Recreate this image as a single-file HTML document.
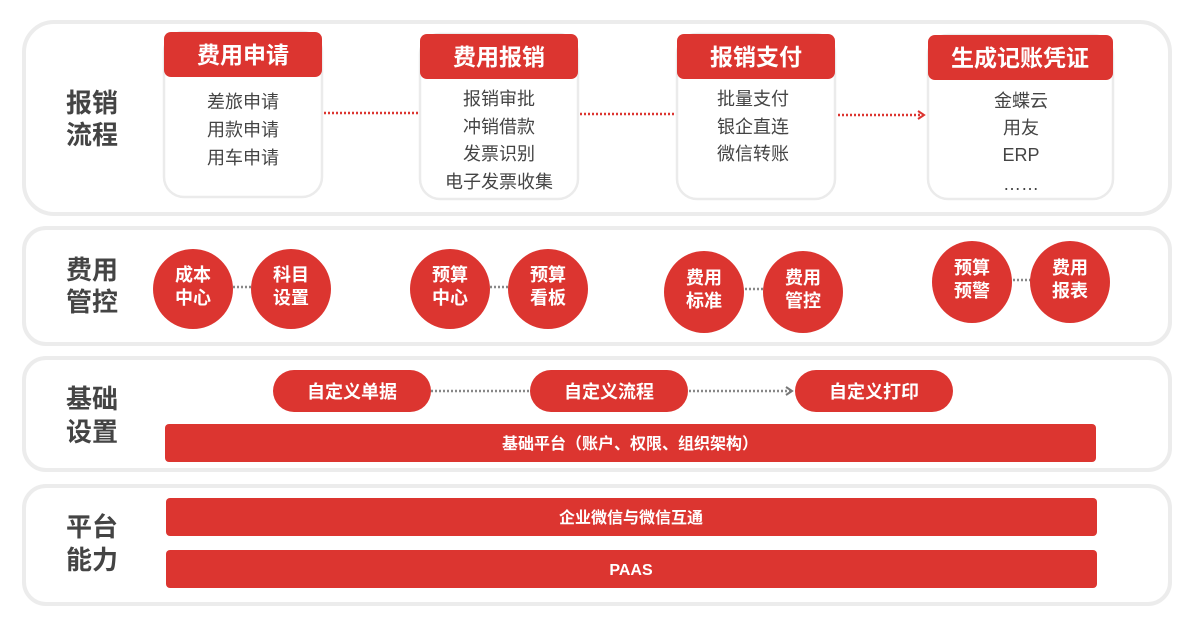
<!DOCTYPE html>
<html><head><meta charset="utf-8"><style>
html,body{margin:0;padding:0;background:#fff;width:1200px;height:626px;overflow:hidden}
svg{display:block}
text{font-family:"Liberation Sans","Noto Sans CJK SC",sans-serif}
.lbl{font-size:26px;font-weight:bold;fill:#444}
.hd{font-size:23px;font-weight:bold;fill:#fff}
.it{font-size:18px;fill:#444}
.ct{font-size:18px;font-weight:bold;fill:#fff}
</style></head><body>
<svg width="1200" height="626" viewBox="0 0 1200 626">
<defs>
<marker id="ar" markerWidth="10" markerHeight="10" refX="8" refY="5" orient="auto" markerUnits="userSpaceOnUse"><path d="M2,1 L8,5 L2,9" fill="none" stroke="#dc3530" stroke-width="2"/></marker>
<marker id="ag" markerWidth="10" markerHeight="10" refX="8" refY="5" orient="auto" markerUnits="userSpaceOnUse"><path d="M2,1 L8,5 L2,9" fill="none" stroke="#777" stroke-width="2"/></marker>
</defs>
<g fill="#fff" stroke="#ececec" stroke-width="4">
<rect x="24" y="22" width="1146" height="192" rx="30"/>
<rect x="24" y="228" width="1146" height="116" rx="22"/>
<rect x="24" y="358" width="1146" height="112" rx="22"/>
<rect x="24" y="486" width="1146" height="118" rx="22"/>
</g>
<g class="lbl" text-anchor="middle">
<text x="92" y="112" class="lbl">报销</text><text x="92" y="144" class="lbl">流程</text>
<text x="92" y="279" class="lbl">费用</text><text x="92" y="311" class="lbl">管控</text>
<text x="92" y="408" class="lbl">基础</text><text x="92" y="441" class="lbl">设置</text>
<text x="92" y="536" class="lbl">平台</text><text x="92" y="569" class="lbl">能力</text>
</g>
<g fill="#fff" stroke="#ebebeb" stroke-width="2.5">
<rect x="164" y="32" width="158" height="165" rx="20"/>
<rect x="420" y="34" width="158" height="165" rx="20"/>
<rect x="677" y="34" width="158" height="165" rx="20"/>
<rect x="928" y="35" width="185" height="164" rx="20"/>
</g>
<g fill="#dc3530">
<rect x="164" y="32" width="158" height="45" rx="7"/>
<rect x="420" y="34" width="158" height="45" rx="7"/>
<rect x="677" y="34" width="158" height="45" rx="7"/>
<rect x="928" y="35" width="185" height="45" rx="7"/>
</g>
<g text-anchor="middle">
<text x="243" y="63" class="hd">费用申请</text>
<text x="499" y="65" class="hd">费用报销</text>
<text x="756" y="65" class="hd">报销支付</text>
<text x="1020" y="66" class="hd">生成记账凭证</text>
<text x="243" y="108" class="it">差旅申请</text>
<text x="243" y="136" class="it">用款申请</text>
<text x="243" y="164" class="it">用车申请</text>
<text x="499" y="105" class="it">报销审批</text>
<text x="499" y="133" class="it">冲销借款</text>
<text x="499" y="160" class="it">发票识别</text>
<text x="499" y="188" class="it">电子发票收集</text>
<text x="753" y="105" class="it">批量支付</text>
<text x="753" y="133" class="it">银企直连</text>
<text x="753" y="160" class="it">微信转账</text>
<text x="1021" y="107" class="it">金蝶云</text>
<text x="1021" y="134" class="it">用友</text>
<text x="1021" y="161" class="it">ERP</text>
<text x="1021" y="190" class="it">……</text>
</g>
<g stroke="#dc3530" stroke-width="2.5" stroke-dasharray="2 2" fill="none">
<line x1="324" y1="113" x2="418" y2="113"/>
<line x1="580" y1="114" x2="675" y2="114"/>
<line x1="838" y1="115" x2="924" y2="115" marker-end="url(#ar)"/>
</g>
<g stroke="#888" stroke-width="2.5" stroke-dasharray="2 2">
<line x1="233" y1="287" x2="251" y2="287"/>
<line x1="490" y1="287" x2="508" y2="287"/>
<line x1="745" y1="289" x2="763" y2="289"/>
<line x1="1013" y1="280" x2="1031" y2="280"/>
</g>
<g fill="#dc3530">
<ellipse cx="193" cy="289" rx="40" ry="40"/>
<ellipse cx="291" cy="289" rx="40" ry="40"/>
<ellipse cx="450" cy="289" rx="40" ry="40"/>
<ellipse cx="548" cy="289" rx="40" ry="40"/>
<ellipse cx="704" cy="292" rx="40" ry="41"/>
<ellipse cx="803" cy="292" rx="40" ry="41"/>
<ellipse cx="972" cy="282" rx="40" ry="41"/>
<ellipse cx="1070" cy="282" rx="40" ry="41"/>
</g>
<g text-anchor="middle" class="ct">
<text x="193" y="281" class="ct">成本</text><text x="193" y="304" class="ct">中心</text>
<text x="291" y="281" class="ct">科目</text><text x="291" y="304" class="ct">设置</text>
<text x="450" y="281" class="ct">预算</text><text x="450" y="304" class="ct">中心</text>
<text x="548" y="281" class="ct">预算</text><text x="548" y="304" class="ct">看板</text>
<text x="704" y="284" class="ct">费用</text><text x="704" y="307" class="ct">标准</text>
<text x="803" y="284" class="ct">费用</text><text x="803" y="307" class="ct">管控</text>
<text x="972" y="274" class="ct">预算</text><text x="972" y="297" class="ct">预警</text>
<text x="1070" y="274" class="ct">费用</text><text x="1070" y="297" class="ct">报表</text>
</g>
<g stroke="#888" stroke-width="2.5" stroke-dasharray="2 2" fill="none">
<line x1="431" y1="391" x2="529" y2="391"/>
<line x1="689" y1="391" x2="792" y2="391" marker-end="url(#ag)"/>
</g>
<g fill="#dc3530">
<rect x="273" y="370" width="158" height="42" rx="21"/>
<rect x="530" y="370" width="158" height="42" rx="21"/>
<rect x="795" y="370" width="158" height="42" rx="21"/>
<rect x="165" y="424" width="931" height="38" rx="4"/>
<rect x="166" y="498" width="931" height="38" rx="4"/>
<rect x="166" y="550" width="931" height="38" rx="4"/>
</g>
<g text-anchor="middle">
<text x="352" y="398" class="ct">自定义单据</text>
<text x="609" y="398" class="ct">自定义流程</text>
<text x="874" y="398" class="ct">自定义打印</text>
<text x="630" y="449" class="ct" style="font-size:16px">基础平台（账户、权限、组织架构）</text>
<text x="631" y="523" class="ct" style="font-size:16px">企业微信与微信互通</text>
<text x="631" y="575" class="ct" style="font-size:16px">PAAS</text>
</g>
</svg>
</body></html>
